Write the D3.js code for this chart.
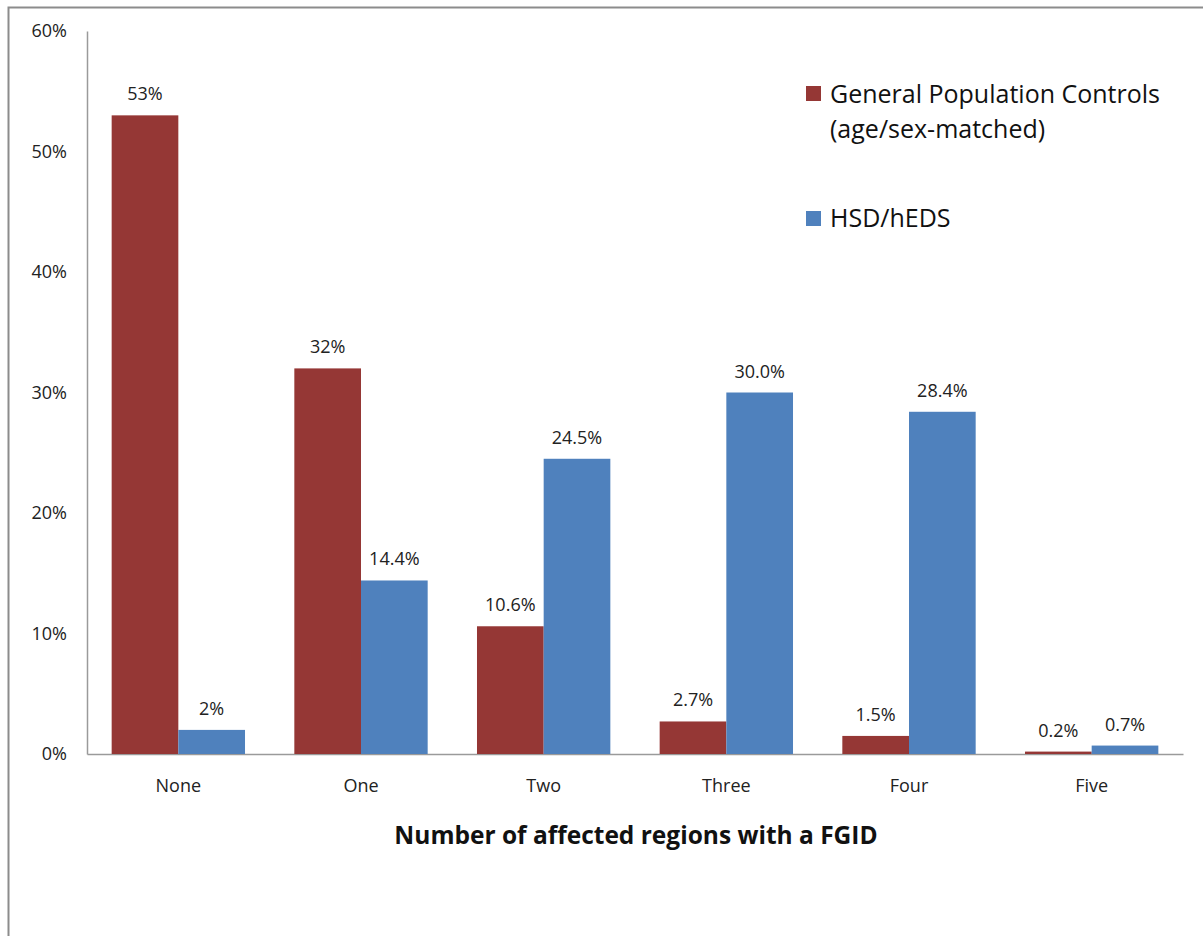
<!DOCTYPE html>
<html>
<head>
<meta charset="utf-8">
<script src="https://cdn.jsdelivr.net/npm/d3@7"></script>
<style>
  html, body { margin: 0; padding: 0; background: #fff; }
  svg { display: block; }
  text { font-family: "Open Sans", "Noto Sans", sans-serif; }
</style>
</head>
<body>
<svg id="chart" width="1203" height="936"></svg>
<script>
// Share of people by number of body regions affected with a functional GI disorder
const categories = ["None", "One", "Two", "Three", "Four", "Five"];
const seriesNames = ["General Population Controls", "HSD/hEDS"];
const controls = [53, 32, 10.6, 2.7, 1.5, 0.2];
const hsd = [2, 14.4, 24.5, 30.0, 28.4, 0.7];
const controlsLabels = ["53%", "32%", "10.6%", "2.7%", "1.5%", "0.2%"];
const hsdLabels = ["2%", "14.4%", "24.5%", "30.0%", "28.4%", "0.7%"];
const yTicks = [0, 10, 20, 30, 40, 50, 60];
const colors = ["#953735", "#4f81bd"];

const svg = d3.select("#chart");

// frame of the chart area
svg.append("path")
  .attr("d", "M8.5,936 V7.5 H1203")
  .attr("fill", "none")
  .attr("stroke", "#8c8c8c")
  .attr("stroke-width", 2);

const plot = { left: 87, right: 1183, top: 31, bottom: 754 };

const x = d3.scaleBand().domain(categories).range([plot.left, plot.right]).paddingInner(0.27).paddingOuter(0.135);
const sub = d3.scaleBand().domain(seriesNames).range([0, x.bandwidth()]);
const y = d3.scaleLinear().domain([0, 60]).range([plot.bottom, plot.top]);

// y axis
const yAxis = svg.append("g").attr("transform", `translate(${plot.left},0)`)
  .call(d3.axisLeft(y).tickValues(yTicks).tickFormat(d => d + "%").tickSize(0).tickPadding(20));
yAxis.select(".domain").attr("stroke", "#9a9a9a").attr("stroke-width", 1.5);
yAxis.selectAll("text").attr("font-size", 18).attr("fill", "#222");

// x axis
const xAxis = svg.append("g").attr("transform", `translate(0,${plot.bottom})`)
  .call(d3.axisBottom(x).tickSize(0).tickPadding(25));
xAxis.select(".domain").attr("stroke", "#9a9a9a").attr("stroke-width", 1.5);
xAxis.selectAll("text").attr("font-size", 18).attr("fill", "#222");

const series = [
  { name: seriesNames[0], values: controls, labels: controlsLabels, color: colors[0] },
  { name: seriesNames[1], values: hsd, labels: hsdLabels, color: colors[1] }
];

series.forEach(s => {
  const g = svg.append("g");
  g.selectAll("rect").data(categories).join("rect")
    .attr("x", (c) => x(c) + sub(s.name))
    .attr("width", sub.bandwidth())
    .attr("y", (c, i) => y(s.values[i]))
    .attr("height", (c, i) => plot.bottom - y(s.values[i]))
    .attr("fill", s.color);
  g.selectAll("text").data(categories).join("text")
    .attr("x", (c) => x(c) + sub(s.name) + sub.bandwidth() / 2)
    .attr("y", (c, i) => y(s.values[i]) - 15)
    .attr("text-anchor", "middle")
    .attr("font-size", 18)
    .attr("fill", "#222")
    .text((c, i) => s.labels[i]);
});

// axis title
svg.append("text")
  .attr("x", 636).attr("y", 844)
  .attr("text-anchor", "middle")
  .attr("font-size", 24.5).attr("font-weight", "bold").attr("fill", "#111")
  .text("Number of affected regions with a FGID");

// legend
const legend = svg.append("g");
legend.append("rect").attr("x", 806).attr("y", 86).attr("width", 15).attr("height", 15).attr("fill", colors[0]);
legend.append("text").attr("x", 830).attr("y", 103).attr("font-size", 25).attr("fill", "#111").text("General Population Controls");
legend.append("text").attr("x", 830).attr("y", 138).attr("font-size", 25).attr("fill", "#111").text("(age/sex-matched)");
legend.append("rect").attr("x", 806).attr("y", 211).attr("width", 15).attr("height", 15).attr("fill", colors[1]);
legend.append("text").attr("x", 830).attr("y", 227).attr("font-size", 25).attr("fill", "#111").text("HSD/hEDS");
</script>
</body>
</html>
